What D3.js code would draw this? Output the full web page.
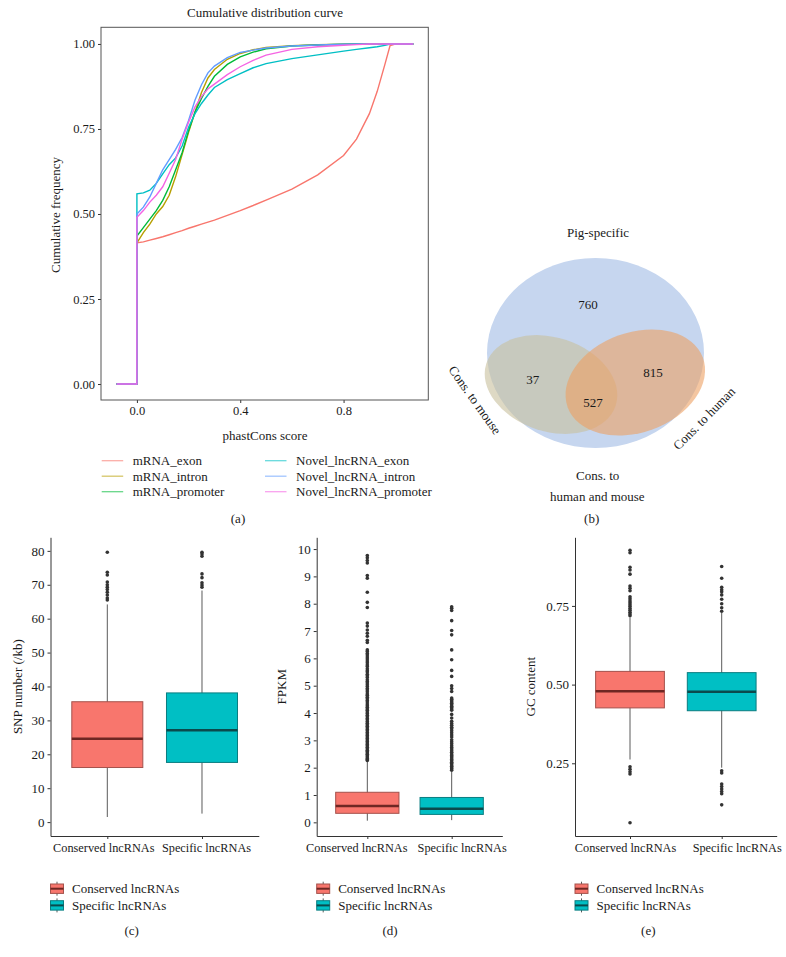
<!DOCTYPE html>
<html>
<head>
<meta charset="utf-8">
<script src="https://cdn.jsdelivr.net/npm/d3@7"></script>
<style>
body { margin: 0; background: #fff; }
text { font-family: "Liberation Serif", serif; fill: #1a1a1a; }
</style>
</head>
<body>
<div id="fig"></div>
<script>
// ---- data: (a) cumulative distribution ----
const cdfSeries = ["mRNA_exon", "mRNA_intron", "mRNA_promoter", "Novel_lncRNA_exon", "Novel_lncRNA_intron", "Novel_lncRNA_promoter"];
const cdfPadLo = -0.079;
const cdfPadHi = 1.07;
const cdfX = [0, 0.025, 0.05, 0.075, 0.1, 0.125, 0.15, 0.175, 0.2, 0.225, 0.25, 0.275, 0.3, 0.35, 0.4, 0.45, 0.5, 0.6, 0.7, 0.8, 0.85, 0.9, 0.93, 0.96, 0.98, 1.0];
const cdfMrnaExon = [0.415, 0.418, 0.423, 0.428, 0.433, 0.439, 0.445, 0.451, 0.458, 0.464, 0.47, 0.476, 0.482, 0.496, 0.51, 0.525, 0.541, 0.573, 0.615, 0.672, 0.72, 0.795, 0.86, 0.94, 0.995, 1.0];
const cdfMrnaIntron = [0.415, 0.445, 0.47, 0.5, 0.522, 0.555, 0.61, 0.675, 0.74, 0.8, 0.857, 0.9, 0.925, 0.955, 0.972, 0.983, 0.99, 0.995, 0.998, 0.999, 1.0, 1.0, 1.0, 1.0, 1.0, 1.0];
const cdfMrnaPromoter = [0.435, 0.46, 0.485, 0.51, 0.54, 0.58, 0.63, 0.68, 0.745, 0.8, 0.84, 0.875, 0.905, 0.94, 0.962, 0.976, 0.986, 0.994, 0.997, 0.999, 1.0, 1.0, 1.0, 1.0, 1.0, 1.0];
const cdfNovelExon = [0.559, 0.562, 0.57, 0.59, 0.618, 0.645, 0.665, 0.7, 0.755, 0.795, 0.825, 0.85, 0.872, 0.895, 0.913, 0.93, 0.942, 0.957, 0.968, 0.979, 0.984, 0.989, 0.992, 0.996, 1.0, 1.0];
const cdfNovelIntron = [0.5, 0.52, 0.55, 0.59, 0.63, 0.66, 0.69, 0.725, 0.775, 0.835, 0.88, 0.915, 0.935, 0.96, 0.975, 0.982, 0.988, 0.994, 0.997, 0.999, 1.0, 1.0, 1.0, 1.0, 1.0, 1.0];
const cdfNovelPromoter = [0.49, 0.51, 0.535, 0.555, 0.58, 0.62, 0.66, 0.72, 0.77, 0.815, 0.845, 0.868, 0.882, 0.91, 0.933, 0.952, 0.967, 0.984, 0.992, 0.996, 0.998, 1.0, 1.0, 1.0, 1.0, 1.0];
const cdfValues = [cdfMrnaExon, cdfMrnaIntron, cdfMrnaPromoter, cdfNovelExon, cdfNovelIntron, cdfNovelPromoter];
const cdfXTicks = [0, 0.4, 0.8];
const cdfYTicks = [0, 0.25, 0.5, 0.75, 1];

// ---- data: (b) venn ----
const vennSets = ["Pig-specific", "Cons. to mouse", "Cons. to human"];
const vennCounts = { pig: 760, mouse: 37, both: 527, human: 815 };

// ---- data: (c)-(e) box plots, [lower whisker, q1, median, q3, upper whisker] ----
const boxCategories = ["Conserved lncRNAs", "Specific lncRNAs"];
const snpStats = [[1.5, 16.1, 24.6, 35.5, 64.2], [2.5, 17.6, 27.1, 38.1, 68.3]];
const snpOutConserved = [79.6, 73.7, 72.9, 70.8, 70.0, 69.3, 68.6, 67.8, 67.0, 66.1, 65.5];
const snpOutSpecific = [79.6, 79.1, 78.4, 73.2, 72.1, 70.6, 69.9, 69.3];
const snpTicks = [0, 10, 20, 30, 40, 50, 60, 70, 80];

const fpkmStats = [[0.06, 0.33, 0.6, 1.1, 2.22], [0.08, 0.29, 0.5, 0.91, 1.85]];
const fpkmOutConserved = [9.76, 9.68, 9.58, 9.49, 9.03, 8.93, 8.42, 8.05, 7.86, 7.29, 7.18, 7.04, 6.92, 6.81, 6.66, 6.58,
  6.31, 6.25, 6.18, 6.12, 6.05, 5.98, 5.9, 5.84, 5.76, 5.7, 5.62, 5.55, 5.5, 5.42, 5.36, 5.3, 5.22, 5.15, 5.1, 5.03,
  4.97, 4.9, 4.84, 4.78, 4.7, 4.65, 4.58, 4.52, 4.46, 4.4, 4.33, 4.27, 4.21, 4.15, 4.1, 4.04, 3.98, 3.92, 3.86, 3.8,
  3.75, 3.69, 3.63, 3.57, 3.52, 3.46, 3.4, 3.35, 3.29, 3.23, 3.18, 3.12, 3.07, 3.01, 2.96, 2.9, 2.85, 2.8, 2.75, 2.69,
  2.64, 2.59, 2.54, 2.49, 2.44, 2.39, 2.34, 2.3, 2.26];
const fpkmOutSpecific = [7.89, 7.83, 7.75, 7.38, 7.02, 6.86, 6.31, 5.95, 5.56, 5.34, 5.0, 4.9, 4.79, 4.55, 4.5, 4.45,
  4.4, 4.36, 4.3, 4.25, 4.2, 4.15, 4.1, 3.95, 3.82, 3.7, 3.62, 3.55, 3.48, 3.42, 3.35, 3.28, 3.2, 3.12, 3.02, 2.95,
  2.88, 2.8, 2.74, 2.68, 2.62, 2.56, 2.5, 2.45, 2.4, 2.35, 2.3, 2.25, 2.2, 2.15, 2.1, 2.05, 2.0, 1.96, 1.91];
const fpkmTicks = [0, 1, 2, 3, 4, 5, 6, 7, 8, 9, 10];

const gcStats = [[0.262, 0.426, 0.479, 0.542, 0.713], [0.236, 0.417, 0.477, 0.538, 0.728]];
const gcOutConserved = [0.927, 0.919, 0.873, 0.864, 0.851, 0.813, 0.806, 0.798, 0.779, 0.773, 0.766, 0.76, 0.754,
  0.748, 0.742, 0.736, 0.73, 0.724, 0.719, 0.239, 0.231, 0.223, 0.216, 0.061];
const gcOutSpecific = [0.875, 0.838, 0.809, 0.801, 0.795, 0.785, 0.771, 0.757, 0.744, 0.733,
  0.226, 0.219, 0.184, 0.176, 0.168, 0.16, 0.153, 0.118];
const gcTicks = [0.25, 0.5, 0.75];

// ---- styles ----
const font = '"Liberation Serif", serif';
const cdfColors = ["#F8766D", "#B79F00", "#00BA38", "#00BFC4", "#619CFF", "#F564E3"];
const boxFill = ["#F8766D", "#00BFC4"];
const boxStroke = ["#a4524c", "#0a7d80"];
const boxMedian = ["#6e2723", "#0b4a4c"];

const svg = d3.select("#fig")
    .append("svg")
    .attr("width", 786)
    .attr("height", 957);

function styleAxis(g, size) {
    g.attr("font-family", font).attr("font-size", size);
    g.select(".domain").attr("stroke", "#333");
    g.selectAll(".tick line").attr("stroke", "#333");
    g.selectAll(".tick text").attr("fill", "#1a1a1a");
}

function addText(x, y, str, opts = {}) {
    const t = svg.append("text")
        .attr("x", x)
        .attr("y", y)
        .attr("dy", "0.35em")
        .attr("text-anchor", opts.anchor || "middle")
        .style("font-size", (opts.size || 13) + "px")
        .text(str);
    if (opts.rotate !== undefined) t.attr("transform", `rotate(${opts.rotate}, ${x}, ${y})`);
    return t;
}

// ================= (a) =================
const ax = d3.scaleLinear().domain([-0.139, 1.128]).range([101, 428.3]);
const ay = d3.scaleLinear().domain([-0.047, 1.049]).range([400, 27.3]);

svg.append("g")
    .attr("transform", "translate(0, 400)")
    .call(d3.axisBottom(ax).tickValues(cdfXTicks).tickFormat(d3.format(".1f")).tickSize(3).tickSizeOuter(0))
    .call(g => styleAxis(g, 12.5))
    .call(g => g.select(".domain").remove());
svg.append("g")
    .attr("transform", "translate(101, 0)")
    .call(d3.axisLeft(ay).tickValues(cdfYTicks).tickFormat(d3.format(".2f")).tickSize(3).tickSizeOuter(0))
    .call(g => styleAxis(g, 12.5))
    .call(g => g.select(".domain").remove());

svg.append("rect")
    .attr("x", 101)
    .attr("y", 27.3)
    .attr("width", 428.3 - 101)
    .attr("height", 400 - 27.3)
    .attr("fill", "none")
    .attr("stroke", "#555")
    .attr("stroke-width", 1);

const cdfLine = d3.line()
    .x(d => ax(d[0]))
    .y(d => ay(d[1]));

cdfSeries.forEach((name, i) => {
    const pts = [[cdfPadLo, 0], [0, 0]]
        .concat(cdfX.map((x, j) => [x, cdfValues[i][j]]))
        .concat([[cdfPadHi, 1]]);
    svg.append("path")
        .datum(pts)
        .attr("d", cdfLine)
        .attr("fill", "none")
        .attr("stroke", cdfColors[i])
        .attr("stroke-width", 1.4);
});

addText(265, 12, "Cumulative distribution curve");
addText(265, 435, "phastCons score");
addText(55, 215, "Cumulative frequency", { rotate: -90 });

// legend
cdfSeries.forEach((name, i) => {
    const col = Math.floor(i / 3), row = i % 3;
    const lx = col === 0 ? 101.7 : 265;
    const ly = 460.7 + row * 15.5;
    svg.append("line")
        .attr("x1", lx).attr("x2", lx + 21.5)
        .attr("y1", ly).attr("y2", ly)
        .attr("stroke", cdfColors[i])
        .attr("stroke-opacity", 0.6)
        .attr("stroke-width", 1.3);
    addText(lx + 31, ly, name, { anchor: "start" });
});
addText(238, 518, "(a)");

// ================= (b) =================
const venn = svg.append("g");
venn.append("ellipse")
    .attr("cx", 595.5).attr("cy", 353).attr("rx", 108.5).attr("ry", 95)
    .attr("fill", "#c6d6ef");
venn.append("ellipse")
    .attr("transform", "translate(551, 384.5) rotate(18)")
    .attr("rx", 68).attr("ry", 47)
    .attr("fill", "rgb(200, 192, 156)")
    .attr("fill-opacity", 0.6);
venn.append("ellipse")
    .attr("transform", "translate(635.3, 382.5) rotate(-20)")
    .attr("rx", 72).attr("ry", 50)
    .attr("fill", "rgb(236, 160, 98)")
    .attr("fill-opacity", 0.6);

addText(598, 232.7, vennSets[0]);
addText(475, 400, vennSets[1], { rotate: 54.5 });
addText(704, 418.3, vennSets[2], { rotate: -45.5 });
addText(597.7, 475, "Cons. to");
addText(597.3, 496, "human and mouse");
addText(588, 304, vennCounts.pig);
addText(532.7, 379, vennCounts.mouse);
addText(593, 402.7, vennCounts.both);
addText(653, 372.7, vennCounts.human);
addText(591.7, 518, "(b)");

// ================= (c)-(e) =================
function boxPanel(p) {
    const x = d3.scalePoint().domain(boxCategories).range([p.x0, p.x1]).padding(0.6);
    const y = d3.scaleLinear().domain(p.domain).range([836, 537.3]);
    const bw = x.step() * 0.75;
    const g = svg.append("g");

    g.append("g")
        .attr("transform", `translate(${p.x0}, 0)`)
        .call(d3.axisLeft(y).tickValues(p.ticks).tickFormat(p.fmt).tickSize(3).tickSizeOuter(0))
        .call(a => styleAxis(a, 13));
    g.append("g")
        .attr("transform", "translate(0, 836)")
        .call(d3.axisBottom(x).tickSize(3).tickSizeOuter(0).tickPadding(4))
        .call(a => styleAxis(a, 12.3))
        // labels sit a little apart from their ticks, as in the figure
        .call(a => a.selectAll(".tick text").attr("dx", (d, i) => p.labelShift[i]));

    boxCategories.forEach((c, i) => {
        const s = p.stats[i];
        const cx = x(c);
        g.append("line")
            .attr("x1", cx).attr("x2", cx)
            .attr("y1", y(s[0])).attr("y2", y(s[4]))
            .attr("stroke", "#5a5a5a").attr("stroke-width", 1);
        g.append("rect")
            .attr("x", cx - bw / 2).attr("width", bw)
            .attr("y", y(s[3])).attr("height", y(s[1]) - y(s[3]))
            .attr("fill", boxFill[i])
            .attr("stroke", boxStroke[i]).attr("stroke-width", 1);
        g.append("line")
            .attr("x1", cx - bw / 2).attr("x2", cx + bw / 2)
            .attr("y1", y(s[2])).attr("y2", y(s[2]))
            .attr("stroke", boxMedian[i]).attr("stroke-width", 2.5);
        g.selectAll(null)
            .data(p.outliers[i])
            .enter()
            .append("circle")
            .attr("cx", cx).attr("cy", d => y(d))
            .attr("r", 1.8)
            .attr("fill", "#333");
    });

    addText(p.labelX, 686.7, p.label, { rotate: -90 });

    // legend
    boxCategories.forEach((c, i) => {
        const ky = 888.7 + i * 16.7;
        const kx = p.x0;
        g.append("line")
            .attr("x1", kx + 6.5).attr("x2", kx + 6.5)
            .attr("y1", ky - 7).attr("y2", ky + 7)
            .attr("stroke", "#5a5a5a").attr("stroke-width", 1);
        g.append("rect")
            .attr("x", kx).attr("y", ky - 4.7)
            .attr("width", 13).attr("height", 9.4)
            .attr("fill", boxFill[i])
            .attr("stroke", boxStroke[i]).attr("stroke-width", 1);
        g.append("line")
            .attr("x1", kx).attr("x2", kx + 13)
            .attr("y1", ky).attr("y2", ky)
            .attr("stroke", boxMedian[i]).attr("stroke-width", 2);
        addText(kx + 21.5, ky, c, { anchor: "start" });
    });
    addText(p.capX, 930.7, p.caption);
}

boxPanel({
    x0: 50.5, x1: 258.8, domain: [-4.1, 84], ticks: snpTicks, fmt: d3.format("d"),
    stats: snpStats, outliers: [snpOutConserved, snpOutSpecific], labelShift: [-4, 4],
    label: "SNP number (/kb)", labelX: 17, caption: "(c)", capX: 131.7
});
boxPanel({
    x0: 316.7, x1: 502.3, domain: [-0.5, 10.43], ticks: fpkmTicks, fmt: d3.format("d"),
    stats: fpkmStats, outliers: [fpkmOutConserved, fpkmOutSpecific], labelShift: [-11, 10],
    label: "FPKM", labelX: 281.7, caption: "(d)", capX: 390
});
boxPanel({
    x0: 575, x1: 776.7, domain: [0.019, 0.968], ticks: gcTicks, fmt: d3.format(".2f"),
    stats: gcStats, outliers: [gcOutConserved, gcOutSpecific], labelShift: [-5, 15],
    label: "GC content", labelX: 530, caption: "(e)", capX: 648.3
});
</script>
</body>
</html>
